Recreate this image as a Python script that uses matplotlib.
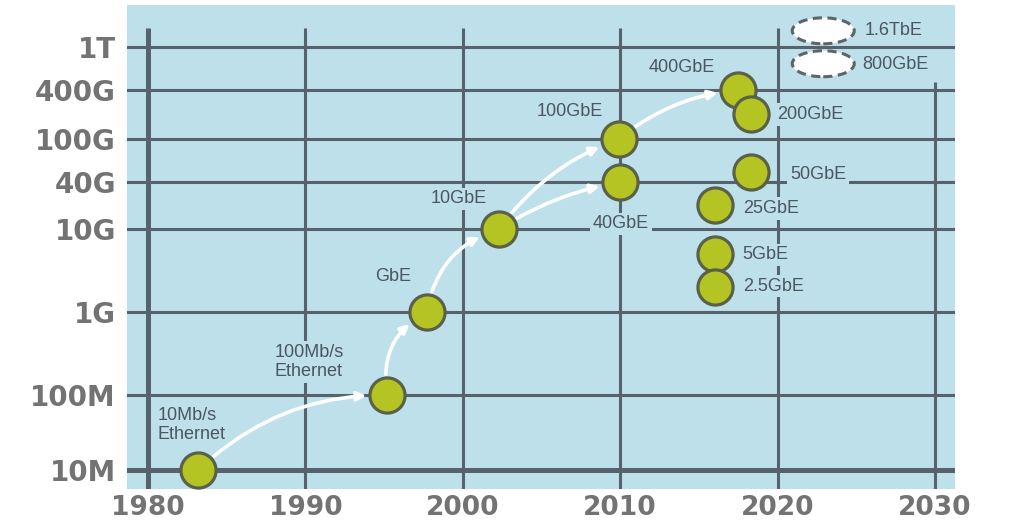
import numpy as np
import matplotlib.pyplot as plt
from matplotlib.patches import Ellipse
from matplotlib.transforms import ScaledTranslation
from matplotlib.ticker import NullLocator

# ethernet speeds: (name, year, bit rate)
names = ["10Mb/s\nEthernet", "100Mb/s\nEthernet", "GbE", "10GbE", "100GbE", "40GbE",
         "400GbE", "200GbE", "50GbE", "25GbE", "5GbE", "2.5GbE"]
years = [1983.2, 1995.2, 1997.7, 2002.3, 2009.9, 2010.0, 2017.5, 2018.3, 2018.3, 2016.0, 2016.0, 2016.0]
rates = [1e7, 1e8, 1e9, 1e10, 1e11, 4e10, 4e11, 2e11, 5e10, 2e10, 5e9, 2e9]

# future speeds drawn as dashed ellipses
future_names = ["1.6TbE", "800GbE"]
future_years = [2022.9, 2022.9]
future_rates = [1.5e12, 7e11]

# arrows between speeds (index from, index to, curvature)
arrows = [(0, 1, -0.2), (1, 2, -0.35), (2, 3, -0.3), (3, 4, -0.15), (3, 5, -0.1), (4, 6, -0.15)]

y_ticks = [1e7, 1e8, 1e9, 1e10, 4e10, 1e11, 4e11, 1e12]
y_labels = ["10M", "100M", "1G", "10G", "40G", "100G", "400G", "1T"]
x_ticks = [1980, 1990, 2000, 2010, 2020, 2030]

# label offsets from marker centre in pixels (dx, dy up), alignment
label_pos = [(-41, 45, "left"), (-113, 33, "left"), (-33, 35, "center"), (-40, 30, "center"),
             (-49, 27, "center"), (1, -42, "center"), (-56, 22, "center"), (26, 0, "left"),
             (39, -3, "left"), (28, -3, "left"), (28, -1, "left"), (28, 1, "left")]
future_pos = [(41, 0), (39, -1)]

bg = "#bde0ea"
grid_c = "#56636d"
dot_fill = "#b4c423"
dot_edge = "#5a6148"
txt_c = "#4b5660"
tick_c = "#737373"

# uneven vertical scale of the original chart
log_knots = np.log10([1e6, 1e7, 1e8, 1e9, 1e10, 4e10, 1e11, 4e11, 1e12, 1e13])
u_knots = -np.array([545, 470, 395, 312, 229, 182, 139, 90, 47, -45], dtype=float)

def forward(y):
    return np.interp(np.log10(np.clip(y, 1e-30, None)), log_knots, u_knots)

def inverse(u):
    return 10 ** np.interp(u, u_knots, log_knots)

fig = plt.figure(figsize=(10.1, 5.24), dpi=100)
ax = fig.add_axes([127 / 1010, 35 / 524, 828 / 1010, 484 / 524])
ax.set_facecolor(bg)
ax.set_yscale("function", functions=(forward, inverse))
ax.set_xlim(1978.67, 2031.27)
ax.set_ylim(inverse(-489), inverse(-5))
for s in ax.spines.values():
    s.set_visible(False)

# grid lines
for v in y_ticks:
    ax.axhline(v, color=grid_c, lw=3.6 if v == 1e7 else 2.2, zorder=1)
top = inverse(-28)
for x in x_ticks:
    ytop = inverse(-82) if x == 2030 else top
    ax.vlines(x, inverse(-489), ytop, color=grid_c, lw=3.6 if x == 1980 else 2.2, zorder=1)

ax.set_yticks(y_ticks, labels=y_labels)
ax.set_xticks(x_ticks, labels=[str(x) for x in x_ticks])
ax.yaxis.set_minor_locator(NullLocator())
ax.xaxis.set_minor_locator(NullLocator())
ax.tick_params(length=0, labelsize=20, labelcolor=tick_c)
ax.tick_params(axis="y", pad=8)
ax.tick_params(axis="x", pad=4, labelsize=19)
for lab in ax.get_xticklabels() + ax.get_yticklabels():
    lab.set_fontweight("bold")

# arrows
for i, j, rad in arrows:
    ax.annotate("", xy=(years[j], rates[j]), xytext=(years[i], rates[i]),
                arrowprops=dict(arrowstyle="-|>", color="white", lw=2.6, mutation_scale=13,
                                shrinkA=15, shrinkB=15,
                                connectionstyle=f"arc3,rad={rad}"),
                zorder=3)

# speed dots
ax.scatter(years, rates, s=640, color=dot_fill, edgecolor=dot_edge, linewidth=2.3, zorder=4)

for name, x, y, (dx, dy, ha) in zip(names, years, rates, label_pos):
    ax.annotate(name, xy=(x, y), xytext=(dx * 0.72, dy * 0.72), textcoords="offset points",
                ha=ha, va="center", fontsize=13, color=txt_c, family="Liberation Sans",
                linespacing=1.15, zorder=2,
                bbox=dict(boxstyle="square,pad=0.15", fc=bg, ec="none"))

# future speeds
for name, x, y, (dx, dy) in zip(future_names, future_years, future_rates, future_pos):
    e = Ellipse((0, 0), 0.62, 0.26, transform=fig.dpi_scale_trans + ScaledTranslation(x, y, ax.transData),
                facecolor="white", edgecolor="#5f6468", lw=2.2, linestyle=(0, (3, 1.8)), zorder=4)
    ax.add_patch(e)
    ax.annotate(name, xy=(x, y), xytext=(dx * 0.72, dy * 0.72), textcoords="offset points",
                ha="left", va="center", fontsize=13, color=txt_c, family="Liberation Sans",
                zorder=2, bbox=dict(boxstyle="square,pad=0.15", fc=bg, ec="none"))

fig.savefig("out.png", dpi=100, facecolor="white")
